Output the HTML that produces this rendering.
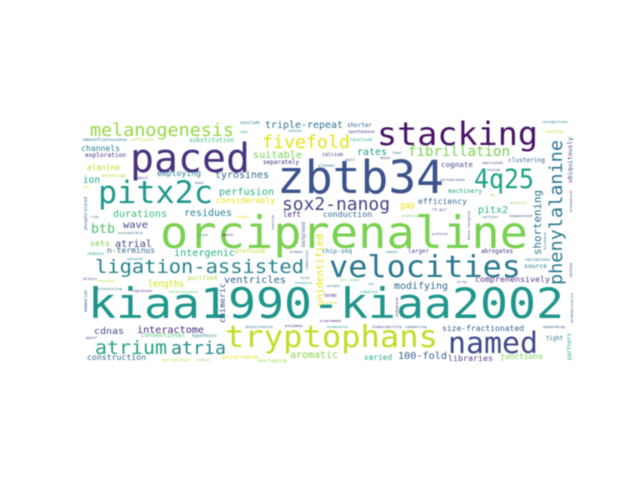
<!DOCTYPE html>
<html lang="en">
<head>
<meta charset="utf-8">
<title>Word cloud</title>
<style>
html,body{margin:0;padding:0;background:#fff;width:640px;height:480px;overflow:hidden}
svg{display:block;position:absolute;left:0;top:0}
#cloud text{font-family:"DejaVu Sans Mono","Liberation Mono",monospace}
#cloud{filter:blur(0.45px)}
</style>
</head>
<body>
<svg width="640" height="480" viewBox="0 0 640 480" xmlns="http://www.w3.org/2000/svg">
<rect width="640" height="480" fill="#fff"/>
<g id="cloud">
<text x="88" y="318" font-size="42" textLength="476" lengthAdjust="spacingAndGlyphs" fill="#1f968b">kiaa1990-kiaa2002</text>
<text x="160" y="248" font-size="44.5" textLength="368" lengthAdjust="spacingAndGlyphs" fill="#7ad151">orciprenaline</text>
<text x="277" y="193" font-size="45" textLength="167" lengthAdjust="spacingAndGlyphs" fill="#3b528b">zbtb34</text>
<text x="130" y="172" font-size="40" textLength="120" lengthAdjust="spacingAndGlyphs" fill="#46327e">paced</text>
<text x="377" y="145" font-size="32" textLength="161" lengthAdjust="spacingAndGlyphs" fill="#471365">stacking</text>
<text x="98" y="203" font-size="31" textLength="115" lengthAdjust="spacingAndGlyphs" fill="#1f988b">pitx2c</text>
<text x="474" y="188" font-size="27" textLength="60" lengthAdjust="spacingAndGlyphs" fill="#1fa187">4q25</text>
<text x="329" y="277" font-size="30" textLength="192" lengthAdjust="spacingAndGlyphs" fill="#2a788e">velocities</text>
<text x="95" y="273" font-size="19" textLength="209" lengthAdjust="spacingAndGlyphs" fill="#26828e">ligation-assisted</text>
<text x="225" y="347" font-size="30" textLength="213" lengthAdjust="spacingAndGlyphs" fill="#bddf26">tryptophans</text>
<text x="448" y="353" font-size="29" textLength="90" lengthAdjust="spacingAndGlyphs" fill="#3e4989">named</text>
<text x="90" y="136" font-size="17.5" textLength="144" lengthAdjust="spacingAndGlyphs" fill="#95d840">melanogenesis</text>
<text x="262" y="148" font-size="17.5" textLength="88" lengthAdjust="spacingAndGlyphs" fill="#e5e419">fivefold</text>
<text x="408" y="156" font-size="14" textLength="102" lengthAdjust="spacingAndGlyphs" fill="#7ad151">fibrillation</text>
<text x="282" y="210" font-size="17.5" textLength="108" lengthAdjust="spacingAndGlyphs" fill="#414487">sox2-nanog</text>
<text x="562" y="285" font-size="18" textLength="145" lengthAdjust="spacingAndGlyphs" fill="#2a788e" transform="rotate(-90 562 285)">phenylalanine</text>
<text x="541" y="255" font-size="11" textLength="65" lengthAdjust="spacingAndGlyphs" fill="#2c728e" transform="rotate(-90 541 255)">shortening</text>
<text x="323" y="306" font-size="10" textLength="72" lengthAdjust="spacingAndGlyphs" fill="#e2e418" transform="rotate(-90 323 306)">unidentified</text>
<text x="225" y="323" font-size="8" textLength="40" lengthAdjust="spacingAndGlyphs" fill="#3b528b" transform="rotate(-90 225 323)">chimeric</text>
<text x="265" y="128" font-size="10" textLength="78" lengthAdjust="spacingAndGlyphs" fill="#2c728e">triple-repeat</text>
<text x="347" y="127" font-size="6" textLength="25" lengthAdjust="spacingAndGlyphs" fill="#35608d">shorter</text>
<text x="348" y="133" font-size="4" textLength="27" lengthAdjust="spacingAndGlyphs" fill="#46337e">spontaneous</text>
<text x="350" y="141" font-size="4.2" textLength="22" lengthAdjust="spacingAndGlyphs" fill="#22a884">localized</text>
<text x="357" y="155" font-size="10" textLength="30" lengthAdjust="spacingAndGlyphs" fill="#1f9e89">rates</text>
<text x="322" y="156" font-size="5" textLength="21" lengthAdjust="spacingAndGlyphs" fill="#443983">calcium</text>
<text x="345" y="161" font-size="3.6" textLength="10" lengthAdjust="spacingAndGlyphs" fill="#3b528b">adult</text>
<text x="318" y="167" font-size="4.5" textLength="17" lengthAdjust="spacingAndGlyphs" fill="#2a788e">clones</text>
<text x="392" y="154" font-size="3.6" textLength="10" lengthAdjust="spacingAndGlyphs" fill="#2c728e">fiber</text>
<text x="380" y="159" font-size="3.6" textLength="10" lengthAdjust="spacingAndGlyphs" fill="#482878">amino</text>
<text x="240" y="124" font-size="4.2" textLength="20" lengthAdjust="spacingAndGlyphs" fill="#2a788e">conclude</text>
<text x="240" y="133" font-size="3.5" textLength="8" lengthAdjust="spacingAndGlyphs" fill="#1f9e89">cdna</text>
<text x="288" y="132" font-size="3.5" textLength="14" lengthAdjust="spacingAndGlyphs" fill="#2a788e">cardiac</text>
<text x="82" y="141" font-size="4.2" textLength="45" lengthAdjust="spacingAndGlyphs" fill="#2a788e">immunofluorescence</text>
<text x="130" y="141" font-size="4" textLength="23" lengthAdjust="spacingAndGlyphs" fill="#b5de2b">sufficient</text>
<text x="189" y="142" font-size="6" textLength="45" lengthAdjust="spacingAndGlyphs" fill="#35b779">substitution</text>
<text x="81" y="151" font-size="8" textLength="39" lengthAdjust="spacingAndGlyphs" fill="#26828e">channels</text>
<text x="85" y="157" font-size="6.2" textLength="41" lengthAdjust="spacingAndGlyphs" fill="#482878">exploration</text>
<text x="253" y="158" font-size="10" textLength="49" lengthAdjust="spacingAndGlyphs" fill="#7ad151">suitable</text>
<text x="263" y="164" font-size="6" textLength="36" lengthAdjust="spacingAndGlyphs" fill="#482878">separately</text>
<text x="87" y="170" font-size="8" textLength="33" lengthAdjust="spacingAndGlyphs" fill="#b5de2b">alanine</text>
<text x="83" y="183" font-size="9.5" textLength="17" lengthAdjust="spacingAndGlyphs" fill="#22a884">ion</text>
<text x="102" y="177" font-size="4" textLength="24" lengthAdjust="spacingAndGlyphs" fill="#b5de2b">morphology</text>
<text x="157" y="176" font-size="8" textLength="44" lengthAdjust="spacingAndGlyphs" fill="#2a788e">employing</text>
<text x="137" y="179" font-size="3.6" textLength="11" lengthAdjust="spacingAndGlyphs" fill="#414487">agonist</text>
<text x="215" y="178" font-size="10" textLength="54" lengthAdjust="spacingAndGlyphs" fill="#31688e">tyrosines</text>
<text x="83" y="188" font-size="3.6" textLength="7" lengthAdjust="spacingAndGlyphs" fill="#d8e219">short</text>
<text x="195" y="184" font-size="3.6" textLength="9" lengthAdjust="spacingAndGlyphs" fill="#3b528b">basal</text>
<text x="219" y="195" font-size="10" textLength="55" lengthAdjust="spacingAndGlyphs" fill="#2ab07f">perfusion</text>
<text x="216" y="203" font-size="8" textLength="59" lengthAdjust="spacingAndGlyphs" fill="#dfe318">considerably</text>
<text x="113" y="217" font-size="10" textLength="54" lengthAdjust="spacingAndGlyphs" fill="#35b779">durations</text>
<text x="184" y="216" font-size="10" textLength="48" lengthAdjust="spacingAndGlyphs" fill="#26828e">residues</text>
<text x="283" y="217" font-size="7.5" textLength="18" lengthAdjust="spacingAndGlyphs" fill="#482878">left</text>
<text x="235" y="218" font-size="3.6" textLength="13" lengthAdjust="spacingAndGlyphs" fill="#e5e419">finger</text>
<text x="91" y="218" font-size="3.6" textLength="8" lengthAdjust="spacingAndGlyphs" fill="#2a788e">close</text>
<text x="87" y="230" font-size="4" textLength="33" lengthAdjust="spacingAndGlyphs" fill="#35608d" transform="rotate(-90 87 230)">phosphorylated</text>
<text x="91" y="233" font-size="13" textLength="24" lengthAdjust="spacingAndGlyphs" fill="#4ac16d">btb</text>
<text x="123" y="228" font-size="10" textLength="25" lengthAdjust="spacingAndGlyphs" fill="#414487">wave</text>
<text x="118" y="234" font-size="3.8" textLength="25" lengthAdjust="spacingAndGlyphs" fill="#31688e">susceptible</text>
<text x="90" y="246" font-size="8" textLength="20" lengthAdjust="spacingAndGlyphs" fill="#7ad151">sets</text>
<text x="115" y="247" font-size="10" textLength="37" lengthAdjust="spacingAndGlyphs" fill="#3e4989">atrial</text>
<text x="198" y="236" font-size="3.5" textLength="10" lengthAdjust="spacingAndGlyphs" fill="#2a788e">tissue</text>
<text x="222" y="236" font-size="3.5" textLength="11" lengthAdjust="spacingAndGlyphs" fill="#440154">hearts</text>
<text x="274" y="230" font-size="3.5" textLength="15" lengthAdjust="spacingAndGlyphs" fill="#3b528b" transform="rotate(-90 274 230)">reaction</text>
<text x="107" y="253" font-size="7.5" textLength="48" lengthAdjust="spacingAndGlyphs" fill="#31688e">n-terminus</text>
<text x="87" y="255" font-size="4" textLength="17" lengthAdjust="spacingAndGlyphs" fill="#1f9e89">reduces</text>
<text x="174" y="256" font-size="10" textLength="61" lengthAdjust="spacingAndGlyphs" fill="#29af7f">intergenic</text>
<text x="235" y="253" font-size="6" textLength="30" lengthAdjust="spacingAndGlyphs" fill="#b5de2b">profound</text>
<text x="127" y="260" font-size="3.5" textLength="16" lengthAdjust="spacingAndGlyphs" fill="#2a788e">evaluation</text>
<text x="290" y="253" font-size="3.5" textLength="13" lengthAdjust="spacingAndGlyphs" fill="#3b528b">pulmonary</text>
<text x="308" y="270" font-size="3.5" textLength="20" lengthAdjust="spacingAndGlyphs" fill="#3b528b" transform="rotate(-90 308 270)">reduction</text>
<text x="305" y="247" font-size="5" textLength="25" lengthAdjust="spacingAndGlyphs" fill="#35608d" transform="rotate(-90 305 247)">background</text>
<text x="148" y="287" font-size="10" textLength="36" lengthAdjust="spacingAndGlyphs" fill="#d0e11c">lengths</text>
<text x="188" y="280" font-size="6" textLength="29" lengthAdjust="spacingAndGlyphs" fill="#a5db36">purified</text>
<text x="224" y="283" font-size="10" textLength="62" lengthAdjust="spacingAndGlyphs" fill="#33638d">ventricles</text>
<text x="300" y="279" font-size="3.5" textLength="10" lengthAdjust="spacingAndGlyphs" fill="#2a788e">rescues</text>
<text x="295" y="284" font-size="3.5" textLength="17" lengthAdjust="spacingAndGlyphs" fill="#1f9e89">drosophila</text>
<text x="83" y="280" font-size="3.8" textLength="14" lengthAdjust="spacingAndGlyphs" fill="#46337e">alters</text>
<text x="98" y="282" font-size="3.8" textLength="17" lengthAdjust="spacingAndGlyphs" fill="#b5de2b">nucleus</text>
<text x="97" y="290" font-size="3.8" textLength="25" lengthAdjust="spacingAndGlyphs" fill="#2a788e">processing</text>
<text x="132" y="292" font-size="3.8" textLength="21" lengthAdjust="spacingAndGlyphs" fill="#482878">repressor</text>
<text x="169" y="293" font-size="3.8" textLength="29" lengthAdjust="spacingAndGlyphs" fill="#5ec962">heterozygous</text>
<text x="87" y="312" font-size="4" textLength="22" lengthAdjust="spacingAndGlyphs" fill="#31688e" transform="rotate(-90 87 312)">mammalian</text>
<text x="94" y="334" font-size="9" textLength="30" lengthAdjust="spacingAndGlyphs" fill="#3e4989">cdnas</text>
<text x="137" y="333" font-size="10" textLength="67" lengthAdjust="spacingAndGlyphs" fill="#482878">interactome</text>
<text x="141" y="337" font-size="6" textLength="44" lengthAdjust="spacingAndGlyphs" fill="#4ac16d">conventional</text>
<text x="192" y="337" font-size="4" textLength="25" lengthAdjust="spacingAndGlyphs" fill="#2a788e">hypothesis</text>
<text x="86" y="339" font-size="3.8" textLength="11" lengthAdjust="spacingAndGlyphs" fill="#46337e">motif</text>
<text x="95" y="354" font-size="19" textLength="72" lengthAdjust="spacingAndGlyphs" fill="#29a383">atrium</text>
<text x="171" y="354" font-size="18" textLength="55" lengthAdjust="spacingAndGlyphs" fill="#238a8d">atria</text>
<text x="245" y="328" font-size="3.5" textLength="28" lengthAdjust="spacingAndGlyphs" fill="#2a788e">ubiquitination</text>
<text x="285" y="327" font-size="3.8" textLength="18" lengthAdjust="spacingAndGlyphs" fill="#482878">enzymes</text>
<text x="87" y="360" font-size="8" textLength="59" lengthAdjust="spacingAndGlyphs" fill="#31688e">construction</text>
<text x="162" y="361" font-size="3.6" textLength="28" lengthAdjust="spacingAndGlyphs" fill="#b5de2b">dysregulation</text>
<text x="197" y="361" font-size="3.6" textLength="13" lengthAdjust="spacingAndGlyphs" fill="#7ad151">central</text>
<text x="222" y="359" font-size="6" textLength="36" lengthAdjust="spacingAndGlyphs" fill="#dfe318">occurrence</text>
<text x="258" y="362" font-size="4" textLength="29" lengthAdjust="spacingAndGlyphs" fill="#95d840">overlapping</text>
<text x="290" y="358" font-size="10" textLength="48" lengthAdjust="spacingAndGlyphs" fill="#86d549">aromatic</text>
<text x="364" y="360" font-size="8" textLength="28" lengthAdjust="spacingAndGlyphs" fill="#26a985">varied</text>
<text x="398" y="359" font-size="10" textLength="49" lengthAdjust="spacingAndGlyphs" fill="#35608d">100-fold</text>
<text x="448" y="361" font-size="8" textLength="45" lengthAdjust="spacingAndGlyphs" fill="#5b3c8f">libraries</text>
<text x="500" y="359" font-size="8" textLength="43" lengthAdjust="spacingAndGlyphs" fill="#7ad151">junctions</text>
<text x="442" y="331" font-size="8" textLength="82" lengthAdjust="spacingAndGlyphs" fill="#35608d">size-fractionated</text>
<text x="326" y="328" font-size="3.4" textLength="22" lengthAdjust="spacingAndGlyphs" fill="#1f9e89">recombination</text>
<text x="372" y="328" font-size="3.8" textLength="30" lengthAdjust="spacingAndGlyphs" fill="#482878">inducibility</text>
<text x="405" y="328" font-size="3.8" textLength="22" lengthAdjust="spacingAndGlyphs" fill="#35608d">comparing</text>
<text x="320" y="322" font-size="3.8" textLength="21" lengthAdjust="spacingAndGlyphs" fill="#46337e">programmed</text>
<text x="340" y="281" font-size="3.6" textLength="20" lengthAdjust="spacingAndGlyphs" fill="#5ec962">self-renewal</text>
<text x="327" y="287" font-size="3.6" textLength="13" lengthAdjust="spacingAndGlyphs" fill="#2a788e">encodes</text>
<text x="368" y="285" font-size="3.5" textLength="6" lengthAdjust="spacingAndGlyphs" fill="#35608d">zinc</text>
<text x="360" y="293" font-size="3.8" textLength="18" lengthAdjust="spacingAndGlyphs" fill="#22a884">complex</text>
<text x="324" y="297" font-size="5" textLength="13" lengthAdjust="spacingAndGlyphs" fill="#482878">terms</text>
<text x="324" y="304" font-size="3.8" textLength="13" lengthAdjust="spacingAndGlyphs" fill="#b5de2b">isolated</text>
<text x="398" y="317" font-size="3.5" textLength="20" lengthAdjust="spacingAndGlyphs" fill="#46337e" transform="rotate(-90 398 317)">endogenous</text>
<text x="394" y="289" font-size="10" textLength="54" lengthAdjust="spacingAndGlyphs" fill="#31688e">modifying</text>
<text x="475" y="282" font-size="7.5" textLength="75" lengthAdjust="spacingAndGlyphs" fill="#5b3c8f">comprehensively</text>
<text x="457" y="283" font-size="3.6" textLength="10" lengthAdjust="spacingAndGlyphs" fill="#35608d">array</text>
<text x="322" y="253" font-size="6" textLength="30" lengthAdjust="spacingAndGlyphs" fill="#26828e">chip-seq</text>
<text x="385" y="253" font-size="3.8" textLength="13" lengthAdjust="spacingAndGlyphs" fill="#2a788e">robust</text>
<text x="408" y="253" font-size="6" textLength="21" lengthAdjust="spacingAndGlyphs" fill="#5b3c8f">larger</text>
<text x="481" y="253" font-size="6" textLength="32" lengthAdjust="spacingAndGlyphs" fill="#46337e">abrogates</text>
<text x="525" y="261" font-size="4" textLength="25" lengthAdjust="spacingAndGlyphs" fill="#2a788e">variations</text>
<text x="524" y="268" font-size="6" textLength="23" lengthAdjust="spacingAndGlyphs" fill="#26828e">source</text>
<text x="508" y="162" font-size="6" textLength="37" lengthAdjust="spacingAndGlyphs" fill="#35608d">clustering</text>
<text x="542" y="123" font-size="3.8" textLength="26" lengthAdjust="spacingAndGlyphs" fill="#2a788e">recognition</text>
<text x="545" y="133" font-size="4" textLength="18" lengthAdjust="spacingAndGlyphs" fill="#b5de2b">conform</text>
<text x="572" y="183" font-size="6" textLength="46" lengthAdjust="spacingAndGlyphs" fill="#3e4989" transform="rotate(-90 572 183)">ubiquitously</text>
<text x="572" y="213" font-size="3.5" textLength="23" lengthAdjust="spacingAndGlyphs" fill="#3e4989" transform="rotate(-90 572 213)">cardiovascular</text>
<text x="510" y="204" font-size="3.8" textLength="17" lengthAdjust="spacingAndGlyphs" fill="#86d549">analysis</text>
<text x="509" y="217" font-size="3.8" textLength="23" lengthAdjust="spacingAndGlyphs" fill="#3b528b">sequenced</text>
<text x="546" y="250" font-size="3.5" textLength="18" lengthAdjust="spacingAndGlyphs" fill="#2a788e" transform="rotate(-90 546 250)">disease</text>
<text x="572" y="277" font-size="3.5" textLength="14" lengthAdjust="spacingAndGlyphs" fill="#46337e" transform="rotate(-90 572 277)">method</text>
<text x="573" y="323" font-size="3.8" textLength="30" lengthAdjust="spacingAndGlyphs" fill="#3b528b" transform="rotate(-90 573 323)">dramatically</text>
<text x="543" y="328" font-size="3.8" textLength="22" lengthAdjust="spacingAndGlyphs" fill="#3b528b">depending</text>
<text x="546" y="340" font-size="6" textLength="17" lengthAdjust="spacingAndGlyphs" fill="#2a788e">tight</text>
<text x="571" y="360" font-size="6" textLength="27" lengthAdjust="spacingAndGlyphs" fill="#22a884" transform="rotate(-90 571 360)">partners</text>
<text x="441" y="167" font-size="7" textLength="32" lengthAdjust="spacingAndGlyphs" fill="#414487">cognate</text>
<text x="482" y="164" font-size="3.8" textLength="21" lengthAdjust="spacingAndGlyphs" fill="#3b528b">abolished</text>
<text x="487" y="171" font-size="3.6" textLength="13" lengthAdjust="spacingAndGlyphs" fill="#3b528b">tested</text>
<text x="440" y="181" font-size="3.8" textLength="25" lengthAdjust="spacingAndGlyphs" fill="#3b528b">vertebrates</text>
<text x="448" y="193" font-size="6.2" textLength="34" lengthAdjust="spacingAndGlyphs" fill="#1f9e89">machinery</text>
<text x="418" y="204" font-size="8" textLength="49" lengthAdjust="spacingAndGlyphs" fill="#31688e">efficiency</text>
<text x="400" y="208" font-size="9" textLength="15" lengthAdjust="spacingAndGlyphs" fill="#dfe318">gap</text>
<text x="478" y="213" font-size="10" textLength="30" lengthAdjust="spacingAndGlyphs" fill="#29af7f">pitx2</text>
<text x="323" y="217" font-size="8" textLength="49" lengthAdjust="spacingAndGlyphs" fill="#31688e">conduction</text>
<text x="402" y="217" font-size="3.4" textLength="18" lengthAdjust="spacingAndGlyphs" fill="#5ec962">predicted</text>
<text x="432" y="211" font-size="4" textLength="15" lengthAdjust="spacingAndGlyphs" fill="#3b528b">rt-pcr</text>
<text x="470" y="240" font-size="3.6" textLength="30" lengthAdjust="spacingAndGlyphs" fill="#3b528b" transform="rotate(-90 470 240)">beta-receptor</text>
<text x="483" y="218" font-size="3.6" textLength="15" lengthAdjust="spacingAndGlyphs" fill="#2a788e">action</text>
<text x="490" y="196" font-size="3.6" textLength="5" lengthAdjust="spacingAndGlyphs" fill="#95d840">ib</text>
<text x="432" y="235" font-size="3.5" textLength="16" lengthAdjust="spacingAndGlyphs" fill="#414487">profiles</text>
</g>
</svg>
</body>
</html>
